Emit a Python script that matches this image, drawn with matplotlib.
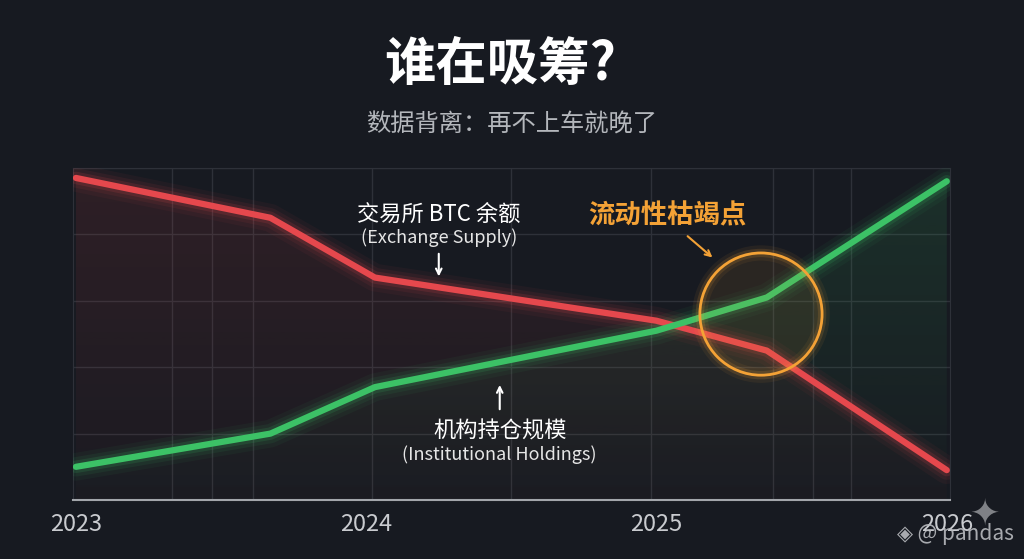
import numpy as np
import matplotlib
matplotlib.use("Agg")
import matplotlib.pyplot as plt
from matplotlib.colors import to_rgb

plt.rcParams['font.family'] = ['Noto Sans CJK SC', 'DejaVu Sans']

# data (0-100 scale)
years = [2023.0, 2023.67, 2024.03, 2025.0, 2025.38, 2026.0]
exchange_supply = [97, 85, 67, 54, 45, 9]
institutional = [10, 20, 34, 51, 61, 96]
tick_years = [2023, 2024, 2025, 2026]
grid_years = [2023.33, 2023.47, 2023.61, 2024.02, 2024.5, 2024.98, 2025.4, 2025.54, 2025.67]

BG = '#171a21'
RED = '#e5484d'
GREEN = '#3cc266'
ORANGE = '#f4a236'

fig = plt.figure(figsize=(10.24, 5.59), dpi=100, facecolor=BG)
ax = fig.add_axes([0.0713, 0.1055, 0.8564, 0.594])
ax.set_facecolor(BG)

x0, x1 = 2022.99, 2026.011


def gradient_fill(x, y, color, a_top, a_bot):
    poly = ax.fill_between(x, y, 0, facecolor='none', edgecolor='none')
    rgb = to_rgb(color)
    z = np.zeros((200, 1, 4))
    z[:, :, :3] = rgb
    z[:, 0, 3] = np.linspace(a_bot, a_top, 200)
    im = ax.imshow(z, aspect='auto', extent=[x0, x1, 0, 100], origin='lower', zorder=1)
    im.set_clip_path(poly.get_paths()[0], transform=ax.transData)


gradient_fill(years, exchange_supply, RED, 0.12, 0.02)
gradient_fill(years, institutional, GREEN, 0.14, 0.01)

# glowing lines
for y, c in [(exchange_supply, RED), (institutional, GREEN)]:
    for lw, a in [(20, 0.05), (14, 0.08), (9, 0.14)]:
        ax.plot(years, y, color=c, lw=lw, alpha=a, solid_capstyle='round', zorder=3)
    ax.plot(years, y, color=c, lw=4.5, solid_capstyle='round', solid_joinstyle='round', zorder=4)

# liquidity circle
cx, cy = 2025.36, 56
ax.scatter([cx], [cy], s=88**2, facecolor=ORANGE, alpha=0.09, edgecolor='none', zorder=5)
for lw, a in [(11, 0.07), (6, 0.15)]:
    ax.scatter([cx], [cy], s=88**2, facecolor='none', edgecolor=ORANGE, linewidth=lw, alpha=a, zorder=5)
ax.scatter([cx], [cy], s=88**2, facecolor='none', edgecolor=ORANGE, linewidth=2, zorder=6)

ax.set_xlim(x0, x1)
ax.set_ylim(0, 100)
ax.set_yticks(np.arange(0, 101, 20))
ax.set_xticks(tick_years)
ax.set_xticklabels([str(t) for t in tick_years], fontsize=17, color='#c9cbcf')
ax.set_xticks(grid_years, minor=True)
ax.tick_params(axis='x', which='both', length=0, pad=9)
ax.tick_params(axis='y', length=0, labelleft=False)
ax.grid(True, which='major', axis='y', color='#2e3139', lw=1)
ax.grid(True, which='minor', axis='x', color='#2e3139', lw=1)
ax.set_axisbelow(True)
for s in ['top', 'right', 'left']:
    ax.spines[s].set_color('#2e3139')
ax.spines['bottom'].set_color('#a3a6ab')
ax.spines['bottom'].set_linewidth(1.5)

# annotations
ax.text(2024.25, 86, '交易所 BTC 余额', color='white', fontsize=16, ha='center', va='center', zorder=7)
ax.text(2024.25, 79, '(Exchange Supply)', color='#e6e6e6', fontsize=13, ha='center', va='center', zorder=7)
ax.annotate('', xy=(2024.25, 66.5), xytext=(2024.25, 75),
            arrowprops=dict(arrowstyle='->', color='white', lw=1.5), zorder=7)

ax.text(2024.46, 20.8, '机构持仓规模', color='white', fontsize=16, ha='center', va='center', zorder=7)
ax.text(2024.46, 13.8, '(Institutional Holdings)', color='#e6e6e6', fontsize=13, ha='center', va='center', zorder=7)
ax.annotate('', xy=(2024.46, 35.5), xytext=(2024.46, 26.5),
            arrowprops=dict(arrowstyle='->', color='white', lw=1.5), zorder=7)

ax.text(2025.036, 85.5, '流动性枯竭点', color=ORANGE, fontsize=19, fontweight='bold',
        ha='center', va='center', zorder=7)
ax.annotate('', xy=(2025.2, 72.5), xytext=(2025.1, 80),
            arrowprops=dict(arrowstyle='->', color=ORANGE, lw=1.5), zorder=7)

# titles
fig.text(0.4883, 0.885, '谁在吸筹?', color='white', fontsize=37, fontweight='bold', ha='center', va='center')
fig.text(0.5, 0.778, '数据背离：再不上车就晚了', color='#b4b7bc', fontsize=17.5, ha='center', va='center')

# watermark
fig.text(0.99, 0.045, '◈ @ pandas', color='#b9bbbf', fontsize=15, ha='right', va='center', alpha=0.9)
fig.text(0.962, 0.08, '✦', color='#9a9ca0', fontsize=26, ha='center', va='center', alpha=0.8)

fig.savefig('out.png', dpi=100, facecolor=BG)
